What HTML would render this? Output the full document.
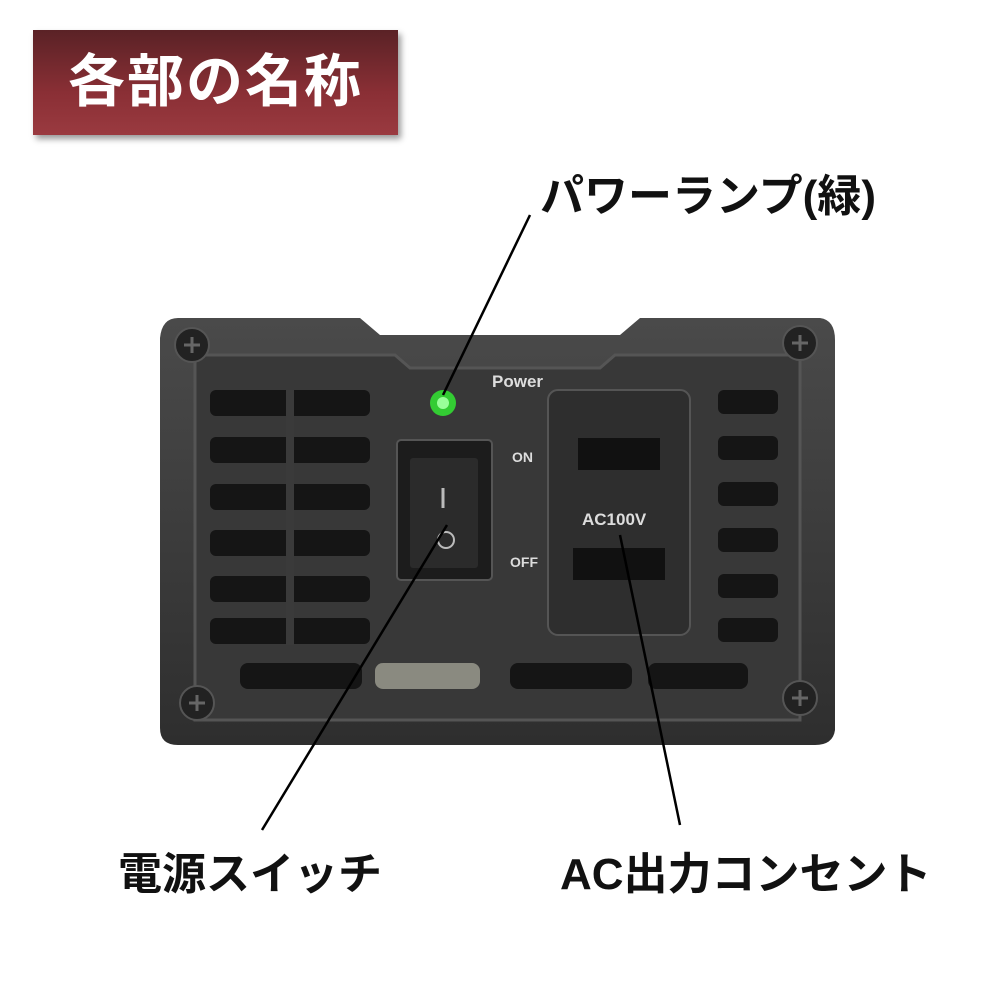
<!DOCTYPE html>
<html><head><meta charset="utf-8"><style>
body{margin:0;width:1000px;height:1000px;background:#fff;position:relative;overflow:hidden;font-family:"Liberation Sans","Noto Sans CJK JP",sans-serif}
.t{position:absolute;left:33px;top:30px;width:365px;height:105px;background:linear-gradient(#5a2226,#8a2f35 60%,#9a3a40);box-shadow:3px 4px 6px rgba(0,0,0,.4);color:#fff;font-weight:bold;font-size:57px;line-height:105px;text-align:center;letter-spacing:2px}
.l{position:absolute;font-weight:bold;font-size:44px;color:#111;white-space:nowrap}
</style></head><body>
<div class="t">各部の名称</div>
<svg width="1000" height="1000" style="position:absolute;left:0;top:0">
<defs><linearGradient id="bd" x1="0" y1="0" x2="0" y2="1"><stop offset="0" stop-color="#4a4a4a"/><stop offset="1" stop-color="#2e2e2e"/></linearGradient></defs>
<path d="M178 318 L360 318 L380 335 L620 335 L640 318 L820 318 Q835 320 835 340 L835 730 Q833 745 815 745 L178 745 Q160 745 160 728 L160 338 Q162 318 178 318Z" fill="url(#bd)"/>
<path d="M195 355 L395 355 L410 368 L600 368 L615 355 L800 355 L800 720 L195 720Z" fill="#383838" stroke="#555" stroke-width="3"/>
<g fill="#151515">
<rect x="210" y="390" width="160" height="26" rx="6"/><rect x="210" y="437" width="160" height="26" rx="6"/>
<rect x="210" y="484" width="160" height="26" rx="6"/><rect x="210" y="530" width="160" height="26" rx="6"/>
<rect x="210" y="576" width="160" height="26" rx="6"/><rect x="210" y="618" width="160" height="26" rx="6"/>
<rect x="718" y="390" width="60" height="24" rx="6"/><rect x="718" y="436" width="60" height="24" rx="6"/>
<rect x="718" y="482" width="60" height="24" rx="6"/><rect x="718" y="528" width="60" height="24" rx="6"/>
<rect x="718" y="574" width="60" height="24" rx="6"/><rect x="718" y="618" width="60" height="24" rx="6"/>
<rect x="240" y="663" width="122" height="26" rx="8"/><rect x="375" y="663" width="105" height="26" rx="8" fill="#8a8a80"/>
<rect x="510" y="663" width="122" height="26" rx="8"/><rect x="648" y="663" width="100" height="26" rx="8"/>
</g>
<rect x="286" y="390" width="8" height="255" fill="#3a3a3a"/>
<g fill="#222" stroke="#555" stroke-width="2">
<circle cx="192" cy="345" r="17"/><circle cx="800" cy="343" r="17"/><circle cx="197" cy="703" r="17"/><circle cx="800" cy="698" r="17"/></g>
<g stroke="#666" stroke-width="3"><path d="M184 345h16M192 337v16M792 343h16M800 335v16M189 703h16M197 695v16M792 698h16M800 690v16"/></g>
<circle cx="443" cy="403" r="13" fill="#3c3"/><circle cx="443" cy="403" r="6" fill="#9f9"/>
<text x="492" y="387" fill="#ddd" font-size="17" font-weight="bold" font-family="Liberation Sans">Power</text>
<text x="512" y="462" fill="#ddd" font-size="14" font-weight="bold" font-family="Liberation Sans">ON</text>
<text x="510" y="567" fill="#ddd" font-size="14" font-weight="bold" font-family="Liberation Sans">OFF</text>
<rect x="397" y="440" width="95" height="140" rx="4" fill="#1c1c1c" stroke="#555" stroke-width="2"/>
<rect x="410" y="458" width="68" height="110" rx="3" fill="#2b2b2b"/>
<line x1="443" y1="488" x2="443" y2="508" stroke="#bbb" stroke-width="3"/>
<circle cx="446" cy="540" r="8" fill="none" stroke="#bbb" stroke-width="2"/>
<rect x="548" y="390" width="142" height="245" rx="10" fill="#2e2e2e" stroke="#555" stroke-width="2"/>
<rect x="578" y="438" width="82" height="32" fill="#111"/><rect x="573" y="548" width="92" height="32" fill="#111"/>
<text x="582" y="525" fill="#ddd" font-size="17" font-weight="bold" font-family="Liberation Sans">AC100V</text>
<g stroke="#000" stroke-width="2.5" fill="none">
<line x1="530" y1="215" x2="443" y2="395"/>
<line x1="447" y1="525" x2="262" y2="830"/>
<line x1="620" y1="535" x2="680" y2="825"/>
</g>
</svg>
<div class="l" style="left:540px;top:160px">パワーランプ(緑)</div>
<div class="l" style="left:118px;top:838px">電源スイッチ</div>
<div class="l" style="left:560px;top:838px">AC出力コンセント</div>
</body></html>
